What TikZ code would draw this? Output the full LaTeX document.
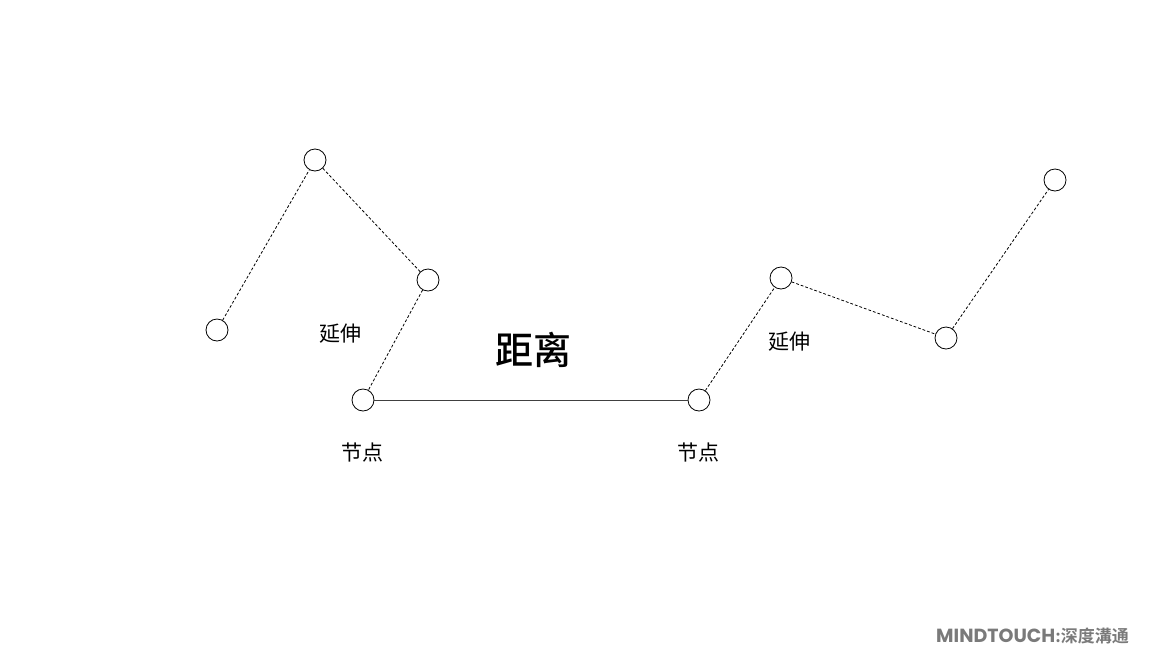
\documentclass[tikz,border=0pt]{standalone}
\usepackage{fontspec}
\setmainfont{Noto Sans CJK SC}
\newfontfamily\markfont{Noto Sans CJK SC Bold}
\newfontfamily\marklatin{Poppins}
\newfontfamily\headfont{Noto Sans CJK SC Medium}
\usetikzlibrary{calc}
\definecolor{markgray}{HTML}{7A7A7A}

\tikzset{
  joint/.style={circle, draw=black, line width=0.8pt, minimum size=22pt, inner sep=0pt, fill=white},
  reach/.style={draw=black, line width=0.8pt, dash pattern=on 2.8pt off 2pt},
  span/.style={draw=black!75, line width=1pt},
  tag/.style={font=\fontsize{21}{21}\selectfont}
}

\begin{document}
\begin{tikzpicture}[x=1pt, y=-1pt]
  \useasboundingbox (0,0) rectangle (1150,662);

  % ---------- joints ----------
  \node[joint] (l1) at (217,330) {};
  \node[joint] (l2) at (315,160) {};
  \node[joint] (l3) at (428,280) {};
  \node[joint] (nl) at (363,400) {};
  \node[joint] (nr) at (699,400) {};
  \node[joint] (r1) at (781,278) {};
  \node[joint] (r2) at (946,338) {};
  \node[joint] (r3) at (1055,180) {};

  % dashed links of each arm
  \foreach \a/\b in {l1/l2, l2/l3, l3/nl, nr/r1, r1/r2, r2/r3} {
    \draw[reach] (\a) -- (\b);
  }

  % solid span between the two end joints
  \draw[span] (nl) -- (nr);

  % ---------- labels ----------
  \node[tag] (extl) at (340,334) {延伸};
  \node[tag] (extr) at (789,342) {延伸};
  \node[tag] (tagl) at (362,452) {节点};
  \node[tag] (tagr) at (698,452) {节点};
  \node[font=\headfont\fontsize{38}{38}\selectfont] (dist) at (533,350) {距离};

  % watermark
  \node[anchor=east, text=markgray, font=\markfont\fontsize{17}{17}\selectfont, inner sep=0pt] (mark) at (1129,636)
    {{\marklatin\bfseries\fontsize{19}{19}\selectfont MINDTOUCH}:深度溝通};
\end{tikzpicture}
\end{document}
